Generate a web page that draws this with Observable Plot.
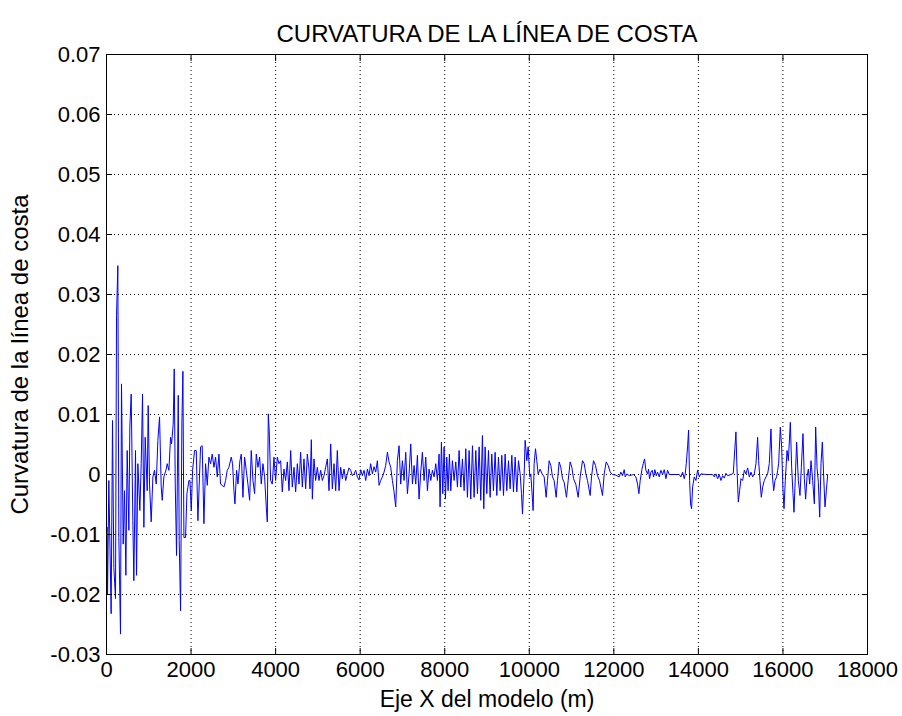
<!DOCTYPE html>
<html><head><meta charset="utf-8">
<script src="https://cdn.jsdelivr.net/npm/d3@7"></script>
<script src="https://cdn.jsdelivr.net/npm/@observablehq/plot@0.6"></script>
<style>
body{margin:0;background:#fff;}
#chart svg{font-family:"Liberation Sans",Arial,Helvetica,sans-serif;}
</style>
</head><body><div id="chart"></div>
<script>
// [x (m), curvature], by stretch of coast
const segment0to2km = [[16,-0.0088],[25,-0.0199],[55,-0.0010],[110,-0.0232],[142,0.0090],[174,-0.0155],[213,-0.0207],[237,0.0265],[268,0.0348],[292,-0.0105],[331,-0.0266],[355,0.0151],[395,-0.0116],[426,-0.0027],[458,-0.0168],[489,0.0040],[529,-0.0093],[552,0.0079],[584,0.0134],[623,-0.0077],[647,-0.0177],[686,0.0040],[710,-0.0168],[742,0.0018],[789,-0.0060],[821,0.0018],[852,0.0134],[884,-0.0088],[915,0.0062],[963,-0.0027],[986,0.0115],[1018,-0.0016],[1057,-0.0079],[1097,-0.0004],[1136,0.0007],[1176,-0.0016],[1215,0.0057],[1255,0.0096],[1294,-0.0021],[1318,-0.0043],[1357,-0.0004],[1405,0.0007],[1436,0.0018],[1476,0.0007],[1515,0.0062],[1539,0.0051],[1578,0.0084],[1602,0.0176],[1626,-0.0016],[1657,-0.0135],[1697,0.0132],[1720,-0.0110],[1752,-0.0227],[1783,0.0084],[1807,0.0172],[1831,-0.0105],[1870,-0.0105],[1902,-0.0032],[1926,-0.0021],[1949,-0.0010],[1973,-0.0010],[2005,-0.0060],[2036,0.0007],[2083,0.0040],[2123,0.0040],[2162,-0.0077]];
const segment2to4km = [[2225,0.0046],[2264,0.0048],[2304,-0.0082],[2343,0.0018],[2383,-0.0018],[2422,0.0029],[2462,0.0018],[2501,0.0034],[2541,0.0012],[2580,0.0029],[2620,-0.0004],[2659,0.0034],[2698,-0.0016],[2738,-0.0018],[2777,-0.0021],[2817,-0.0010],[2856,0.0007],[2896,0.0012],[2951,0.0029],[2982,0.0018],[3014,-0.0027],[3038,-0.0049],[3077,0.0007],[3109,-0.0016],[3156,0.0023],[3188,0.0034],[3227,-0.0038],[3266,0.0029],[3306,0.0007],[3345,-0.0016],[3385,-0.0043],[3424,0.0040],[3464,-0.0010],[3503,-0.0032],[3543,0.0034],[3582,0.0012],[3622,0.0029],[3661,-0.0016],[3700,0.0018],[3740,-0.0004],[3779,-0.0054],[3803,-0.0079],[3827,0.0101],[3850,0.0071],[3882,-0.0010],[3921,-0.0016],[3961,0.0029],[4000,-0.0010],[4040,0.0029],[4079,0.0018],[4119,0.0023]];
const segment4to10km = [[4158,-0.0029],[4198,0.0009],[4237,-0.0010],[4277,0.0021],[4316,-0.0027],[4356,0.0040],[4395,-0.0021],[4435,0.0012],[4474,-0.0029],[4514,0.0018],[4553,-0.0016],[4592,0.0037],[4632,-0.0021],[4671,0.0026],[4711,-0.0024],[4750,0.0034],[4790,0.0009],[4813,-0.0024],[4845,0.0058],[4869,-0.0041],[4908,0.0026],[4947,-0.0010],[4987,0.0012],[5026,-0.0010],[5066,0.0007],[5105,-0.0010],[5145,-0.0002],[5184,0.0012],[5224,0.0026],[5263,-0.0027],[5303,0.0051],[5342,-0.0024],[5381,0.0018],[5421,-0.0027],[5460,0.0040],[5500,-0.0027],[5539,0.0012],[5579,-0.0007],[5618,0.0009],[5658,-0.0010],[5697,0.0001],[5736,0.0011],[5776,0.0007],[5815,-0.0002],[5855,0.0001],[5894,0.0007],[5934,-0.0004],[5973,-0.0009],[6013,0.0008],[6052,-0.0002],[6092,0.0007],[6131,-0.0010],[6171,0.0009],[6210,-0.0002],[6249,0.0018],[6289,0.0001],[6328,0.0013],[6368,0.0004],[6407,0.0023],[6447,-0.0018],[6486,-0.0010],[6526,-0.0004],[6565,0.0004],[6604,0.0015],[6644,0.0037],[6683,0.0021],[6723,0.0012],[6762,-0.0010],[6802,-0.0029],[6841,-0.0054],[6880,0.0023],[6920,0.0048],[6959,-0.0016],[6999,0.0023],[7038,-0.0010],[7078,0.0037],[7117,-0.0032],[7157,0.0001],[7196,0.0051],[7236,-0.0016],[7275,0.0015],[7315,-0.0016],[7354,0.0032],[7393,-0.0041],[7433,0.0004],[7472,0.0037],[7512,-0.0010],[7551,0.0029],[7591,-0.0027],[7630,0.0009],[7670,-0.0010],[7709,0.0007],[7748,-0.0004],[7788,0.0018],[7827,-0.0010],[7867,0.0034],[7890,-0.0054],[7922,0.0054],[7954,-0.0032],[7985,0.0046],[8017,-0.0041],[8048,0.0029],[8080,-0.0027],[8111,0.0034],[8143,-0.0027],[8182,0.0023],[8222,-0.0010],[8261,0.0021],[8301,-0.0021],[8340,0.0040],[8380,-0.0021],[8419,0.0026],[8459,-0.0027],[8498,0.0043],[8537,-0.0038],[8577,0.0040],[8616,-0.0041],[8656,0.0048],[8695,-0.0038],[8735,0.0040],[8774,-0.0032],[8814,0.0046],[8853,-0.0043],[8892,0.0065],[8924,-0.0057],[8956,0.0046],[8995,-0.0032],[9035,0.0040],[9074,-0.0038],[9113,0.0034],[9153,-0.0027],[9192,0.0037],[9232,-0.0035],[9271,0.0029],[9311,-0.0027],[9350,0.0032],[9390,-0.0035],[9429,0.0034],[9468,-0.0027],[9508,0.0023],[9547,-0.0024],[9587,0.0032],[9626,-0.0029],[9666,0.0029],[9705,-0.0029],[9745,0.0023],[9784,0.0001],[9816,-0.0032],[9839,-0.0066],[9879,0.0001],[9902,0.0057],[9942,0.0023],[9973,0.0046],[10013,-0.0004]];
const segment10to14km = [[10036,0.0001],[10091,-0.0060],[10115,0.0018],[10147,0.0043],[10178,0.0023],[10210,0.0001],[10257,0.0009],[10304,0.0001],[10352,-0.0004],[10399,-0.0038],[10431,-0.0010],[10470,0.0023],[10510,0.0015],[10549,-0.0004],[10588,-0.0010],[10636,-0.0038],[10667,-0.0010],[10707,0.0021],[10746,0.0012],[10786,-0.0007],[10825,-0.0013],[10880,-0.0038],[10920,-0.0010],[10967,0.0021],[11007,0.0012],[11046,-0.0007],[11101,-0.0016],[11156,-0.0038],[11204,-0.0004],[11259,0.0023],[11299,0.0018],[11338,0.0001],[11377,-0.0010],[11440,-0.0035],[11472,-0.0004],[11519,0.0023],[11567,0.0015],[11614,-0.0002],[11661,-0.0010],[11732,-0.0035],[11772,0.0001],[11819,0.0021],[11867,0.0015],[11914,0.0004],[11969,0.0000],[12048,-0.0001],[12127,-0.0004],[12166,0.0004],[12206,-0.0002],[12245,0.0008],[12269,-0.0004],[12308,0.0001],[12364,-0.0002],[12419,-0.0001],[12466,0.0000],[12521,-0.0004],[12561,-0.0016],[12592,-0.0032],[12624,-0.0010],[12663,0.0008],[12695,0.0018],[12727,0.0026],[12758,0.0007],[12798,0.0001],[12821,0.0009],[12845,-0.0007],[12877,0.0004],[12908,0.0007],[12940,-0.0004],[12971,0.0008],[13003,-0.0002],[13034,0.0004],[13074,-0.0004],[13113,0.0007],[13153,0.0000],[13192,0.0008],[13232,-0.0007],[13271,0.0007],[13310,0.0000],[13429,0.0000],[13547,0.0000],[13587,-0.0004],[13626,0.0004],[13666,-0.0007],[13689,0.0001],[13713,0.0018],[13744,0.0046],[13768,0.0074],[13792,-0.0010],[13815,-0.0049],[13839,-0.0057],[13863,-0.0021],[13902,-0.0004],[13942,-0.0010],[13981,0.0007],[14021,-0.0004],[14060,0.0001]];
const segment14to17km = [[14200,0.0000],[14336,0.0000],[14376,-0.0004],[14415,0.0001],[14455,-0.0007],[14494,0.0000],[14533,-0.0010],[14573,-0.0002],[14612,-0.0006],[14652,0.0002],[14691,-0.0002],[14770,0.0000],[14825,0.0002],[14865,0.0046],[14888,0.0071],[14912,0.0012],[14944,-0.0046],[14975,-0.0027],[15007,-0.0007],[15046,-0.0010],[15086,0.0007],[15125,0.0001],[15165,0.0011],[15204,-0.0004],[15244,0.0004],[15283,-0.0004],[15322,0.0001],[15362,0.0018],[15401,0.0062],[15425,0.0023],[15457,-0.0010],[15488,-0.0038],[15520,-0.0021],[15559,-0.0010],[15599,-0.0004],[15638,0.0001],[15677,0.0018],[15717,0.0076],[15748,0.0001],[15780,-0.0027],[15812,-0.0010],[15851,-0.0004],[15875,0.0007],[15898,0.0018],[15938,0.0079],[15969,0.0046],[16001,-0.0027],[16025,-0.0057],[16056,-0.0010],[16096,0.0040],[16127,0.0023],[16175,0.0087],[16206,0.0012],[16238,-0.0032],[16261,-0.0063],[16293,-0.0004],[16324,0.0054],[16364,-0.0010],[16403,-0.0035],[16435,0.0012],[16474,0.0068],[16506,-0.0007],[16537,-0.0041],[16569,-0.0004],[16601,0.0009],[16632,-0.0016],[16664,0.0023],[16703,-0.0010],[16743,-0.0049],[16774,0.0079],[16806,0.0012],[16837,-0.0013],[16869,-0.0071],[16900,0.0018],[16932,0.0054],[16964,-0.0004],[16995,-0.0054],[17027,-0.0027],[17058,0.0000]];

const xTicks = [0,2000,4000,6000,8000,10000,12000,14000,16000,18000];
const xTickLabels = ["0","2000","4000","6000","8000","10000","12000","14000","16000","18000"];
const yTicks = [-0.03,-0.02,-0.01,0,0.01,0.02,0.03,0.04,0.05,0.06,0.07];
const yTickLabels = ["-0.03","-0.02","-0.01","0","0.01","0.02","0.03","0.04","0.05","0.06","0.07"];
const titleText = "CURVATURA DE LA LÍNEA DE COSTA";
const xLabelText = "Eje X del modelo (m)";
const yLabelText = "Curvatura de la línea de costa";

const data = [...segment0to2km, ...segment2to4km, ...segment4to10km, ...segment10to14km, ...segment14to17km]
  .map(([x, k]) => ({x, k}));

const fmtX = d => xTickLabels[xTicks.indexOf(d)];
const fmtY = d => yTickLabels[yTicks.findIndex(t => Math.abs(t - d) < 1e-9)];
const grid = {stroke: "#000", strokeOpacity: 1, strokeWidth: 1, strokeDasharray: "1,3"};
const tickOpts = {fill: "none", stroke: "#000", tickSize: -6, label: null};

const chart = Plot.plot({
  width: 902, height: 716,
  marginLeft: 106, marginRight: 35, marginTop: 54, marginBottom: 62,
  style: {fontFamily: "'Liberation Sans', Arial, Helvetica, sans-serif", fontSize: "22px", color: "#000", background: "#fff", overflow: "visible"},
  x: {domain: [0, 18000]},
  y: {domain: [-0.03, 0.07]},
  marks: [
    Plot.gridX(xTicks, grid),
    Plot.gridY(yTicks, grid),
    Plot.line(data, {x: "x", y: "k", stroke: "#0000ff", strokeWidth: 1}),
    Plot.axisX(xTicks, {...tickOpts, anchor: "bottom"}),
    Plot.axisX(xTicks, {...tickOpts, anchor: "top"}),
    Plot.axisY(yTicks, {...tickOpts, anchor: "left"}),
    Plot.axisY(yTicks, {...tickOpts, anchor: "right"}),
    Plot.axisX(xTicks, {anchor: "bottom", tickSize: 0, tickPadding: 7, tickFormat: fmtX, label: null, fontSize: 22, fill: "#000"}),
    Plot.axisY(yTicks, {anchor: "left", tickSize: 0, tickPadding: 6, tickFormat: fmtY, label: null, fontSize: 22, fill: "#000"}),
    Plot.frame({stroke: "#000", strokeWidth: 1}),
    Plot.text([titleText], {frameAnchor: "top", dy: -30, fontSize: 24, fill: "#000"}),
    Plot.text([xLabelText], {frameAnchor: "bottom", dy: 52, fontSize: 23, fill: "#000"}),
    Plot.text([yLabelText], {frameAnchor: "left", textAnchor: "middle", dx: -86, rotate: -90, fontSize: 24, fill: "#000"})
  ]
});
document.getElementById("chart").appendChild(chart);
</script>
</body></html>
